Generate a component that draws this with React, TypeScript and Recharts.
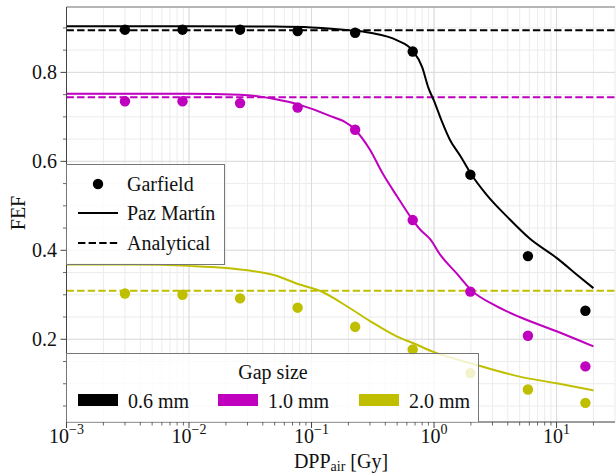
import React from 'react'
import {
  ComposedChart,
  Line,
  Scatter,
  XAxis,
  YAxis,
  CartesianGrid,
  ReferenceLine,
} from 'recharts'

// Garfield simulation points (shared dose values)
const garfieldDose = [0.003, 0.00885, 0.0261, 0.077, 0.227, 0.67, 1.98, 5.84, 17.2]
const garfield06 = [0.896, 0.896, 0.896, 0.893, 0.889, 0.847, 0.57, 0.387, 0.264]
const garfield10 = [0.735, 0.735, 0.731, 0.721, 0.671, 0.468, 0.307, 0.208, 0.139]
const garfield20 = [0.303, 0.3, 0.292, 0.271, 0.228, 0.177, 0.124, 0.087, 0.057]

// Paz Martín model curves
const paz06Dose = [0.001, 0.01, 0.05, 0.1, 0.2, 0.3, 0.5, 0.67, 0.8, 0.9, 1, 1.15, 1.35, 1.65, 2, 2.7, 4, 6, 10, 15, 20]
const paz06 = [0.904, 0.904, 0.903, 0.901, 0.895, 0.889, 0.872, 0.849, 0.812, 0.765, 0.736, 0.692, 0.648, 0.611, 0.572, 0.524, 0.474, 0.427, 0.383, 0.343, 0.315]
const paz10Dose = [0.001, 0.003, 0.01, 0.026, 0.05, 0.08, 0.133, 0.227, 0.3, 0.38, 0.5, 0.67, 0.78, 0.93, 1.13, 1.53, 2, 3.26, 5, 10, 20]
const paz10 = [0.752, 0.752, 0.752, 0.75, 0.74, 0.727, 0.705, 0.671, 0.626, 0.573, 0.521, 0.468, 0.445, 0.425, 0.389, 0.348, 0.311, 0.274, 0.25, 0.218, 0.184]
const paz20Dose = [0.001, 0.0035, 0.01, 0.03, 0.05, 0.08, 0.117, 0.2, 0.3, 0.5, 0.68, 1, 2, 5, 10, 20]
const paz20 = [0.368, 0.368, 0.365, 0.355, 0.344, 0.323, 0.309, 0.272, 0.241, 0.206, 0.191, 0.171, 0.146, 0.116, 0.101, 0.085]

// Analytical (constant) values
const analytical = [0.895, 0.744, 0.309]

const gapLabels = ['0.6 mm', '1.0 mm', '2.0 mm']
const colors = ['#000000', '#bf00bf', '#bfbf00']

const majorX = [0.001, 0.01, 0.1, 1, 10]
const minorX = [
  0.002, 0.003, 0.004, 0.005, 0.006, 0.007, 0.008, 0.009,
  0.02, 0.03, 0.04, 0.05, 0.06, 0.07, 0.08, 0.09,
  0.2, 0.3, 0.4, 0.5, 0.6, 0.7, 0.8, 0.9,
  2, 3, 4, 5, 6, 7, 8, 9, 20,
]
const yTicks = [0.05, 0.1, 0.15, 0.2, 0.25, 0.3, 0.35, 0.4, 0.45, 0.5, 0.55, 0.6, 0.65, 0.7, 0.75, 0.8, 0.85, 0.9]
const yMajor = [0.2, 0.4, 0.6, 0.8]

const X_DOMAIN: [number, number] = [0.001, 30]
const Y_DOMAIN: [number, number] = [0.014, 0.947]
const FONT = '"Liberation Serif", "DejaVu Serif", serif'

const toPts = (xs: number[], ys: number[]) => xs.map((x, i) => ({ x, y: ys[i] }))

const XTick = (props: any) => {
  const { x, y, payload } = props
  const v = payload.value
  const isMajor = majorX.some((m) => Math.abs(m - v) / m < 1e-6)
  if (!isMajor) {
    return <line x1={x} x2={x} y1={y} y2={y + 3.5} stroke="#444" strokeWidth={0.8} />
  }
  const exp = Math.round(Math.log10(v))
  return (
    <g>
      <line x1={x} x2={x} y1={y} y2={y + 6} stroke="#444" strokeWidth={1} />
      <text x={x} y={y + 21} textAnchor="middle" fontFamily={FONT} fontSize={20} fill="#111">
        10<tspan dy={-9} fontSize={14}>{exp < 0 ? '\u2212' + Math.abs(exp) : exp}</tspan>
      </text>
    </g>
  )
}

const YTick = (props: any) => {
  const { x, y, payload } = props
  const v = payload.value
  const isMajor = yMajor.some((m) => Math.abs(m - v) < 1e-6)
  if (!isMajor) {
    return <line x1={x - 3.5} x2={x} y1={y} y2={y} stroke="#444" strokeWidth={0.8} />
  }
  return (
    <g>
      <line x1={x - 6} x2={x} y1={y} y2={y} stroke="#444" strokeWidth={1} />
      <text x={x - 9.5} y={y} dy="0.34em" textAnchor="end" fontFamily={FONT} fontSize={20} fill="#111">
        {v.toFixed(1)}
      </text>
    </g>
  )
}

const dot = (color: string) => (props: any) => (
  <circle cx={props.cx} cy={props.cy} r={5.2} fill={color} />
)

export default function App() {
  const series = [
    { pts: toPts(garfieldDose, garfield06), line: toPts(paz06Dose, paz06) },
    { pts: toPts(garfieldDose, garfield10), line: toPts(paz10Dose, paz10) },
    { pts: toPts(garfieldDose, garfield20), line: toPts(paz20Dose, paz20) },
  ]

  const rowText: React.CSSProperties = {
    position: 'absolute',
    fontFamily: FONT,
    fontSize: 20,
    color: '#111',
    lineHeight: '22px',
    transform: 'translateY(-50%)',
    whiteSpace: 'nowrap',
  }

  return (
    <div style={{ position: 'absolute', left: 0, top: 0, width: 616, height: 474, background: '#fff' }}>
      <ComposedChart width={616} height={474} margin={{ top: 7, right: 1, left: 0, bottom: 0 }}>
        <CartesianGrid stroke="#ececec" strokeWidth={1} />
        {majorX.map((v) => (
          <ReferenceLine key={'gx' + v} x={v} stroke="#dcdcdc" strokeWidth={1} />
        ))}
        {yMajor.map((v) => (
          <ReferenceLine key={'gy' + v} y={v} stroke="#dcdcdc" strokeWidth={1} />
        ))}
        <XAxis
          dataKey="x"
          type="number"
          scale="log"
          domain={X_DOMAIN}
          allowDataOverflow
          ticks={[...majorX, ...minorX].sort((a, b) => a - b)}
          interval={0}
          tick={<XTick />}
          tickLine={false}
          tickSize={0}
          tickMargin={0}
          height={52}
          axisLine={{ stroke: '#444', strokeWidth: 1 }}
        />
        <YAxis
          dataKey="y"
          type="number"
          domain={Y_DOMAIN}
          allowDataOverflow
          ticks={yTicks}
          interval={0}
          tick={<YTick />}
          tickLine={false}
          tickSize={0}
          tickMargin={0}
          width={66.5}
          axisLine={{ stroke: '#444', strokeWidth: 1 }}
        />
        <ReferenceLine y={Y_DOMAIN[1]} stroke="#777" strokeWidth={1} />
        {analytical.map((v, i) => (
          <ReferenceLine key={'an' + i} y={v} stroke={colors[i]} strokeWidth={2} strokeDasharray="7.4 3.2" />
        ))}
        {series.map((s, i) => (
          <Line
            key={'l' + i}
            data={s.line}
            dataKey="y"
            type="monotone"
            stroke={colors[i]}
            strokeWidth={2}
            dot={false}
            activeDot={false}
            isAnimationActive={false}
          />
        ))}
        {series.map((s, i) => (
          <Scatter
            key={'s' + i}
            data={s.pts}
            dataKey="y"
            fill={colors[i]}
            shape={dot(colors[i])}
            isAnimationActive={false}
          />
        ))}
      </ComposedChart>

      {/* axis titles */}
      <div
        style={{
          position: 'absolute',
          left: 18,
          top: 213,
          transform: 'translate(-50%, -50%) rotate(-90deg)',
          fontFamily: FONT,
          fontSize: 20,
          color: '#111',
        }}
      >
        FEF
      </div>
      <div
        style={{
          position: 'absolute',
          left: 341,
          top: 461,
          transform: 'translate(-50%, -50%)',
          fontFamily: FONT,
          fontSize: 20,
          color: '#111',
          whiteSpace: 'nowrap',
        }}
      >
        DPP<span style={{ fontSize: 14, position: 'relative', top: 3 }}>air</span> [Gy]
      </div>

      {/* style legend */}
      <div
        style={{
          position: 'absolute',
          left: 66,
          top: 164,
          width: 157,
          height: 99,
          border: '1px solid #777',
          background: 'rgba(255,255,255,0.8)',
        }}
      >
        <svg width={60} height={99} style={{ position: 'absolute', left: 0, top: 0 }}>
          <circle cx={31} cy={19} r={5.2} fill="#000" />
          <line x1={11} x2={51} y1={48} y2={48} stroke="#000" strokeWidth={2} />
          <line x1={11} x2={51} y1={78} y2={78} stroke="#000" strokeWidth={2} strokeDasharray="7.4 3.2" />
        </svg>
        <div style={{ ...rowText, left: 60, top: 19 }}>Garfield</div>
        <div style={{ ...rowText, left: 60, top: 48 }}>Paz Martín</div>
        <div style={{ ...rowText, left: 60, top: 78 }}>Analytical</div>
      </div>

      {/* gap size legend */}
      <div
        style={{
          position: 'absolute',
          left: 66,
          top: 353,
          width: 411,
          height: 68,
          border: '1px solid #777',
          borderBottom: 'none',
          background: 'rgba(255,255,255,0.8)',
        }}
      >
        <div style={{ ...rowText, left: 206, top: 18, transform: 'translate(-50%, -50%)' }}>Gap size</div>
        {gapLabels.map((g, i) => {
          const left = [11, 151, 292][i]
          return (
            <React.Fragment key={g}>
              <div style={{ position: 'absolute', left, top: 40, width: 40, height: 12, background: colors[i] }} />
              <div style={{ ...rowText, left: left + 50, top: 47 }}>{g}</div>
            </React.Fragment>
          )
        })}
      </div>
    </div>
  )
}
